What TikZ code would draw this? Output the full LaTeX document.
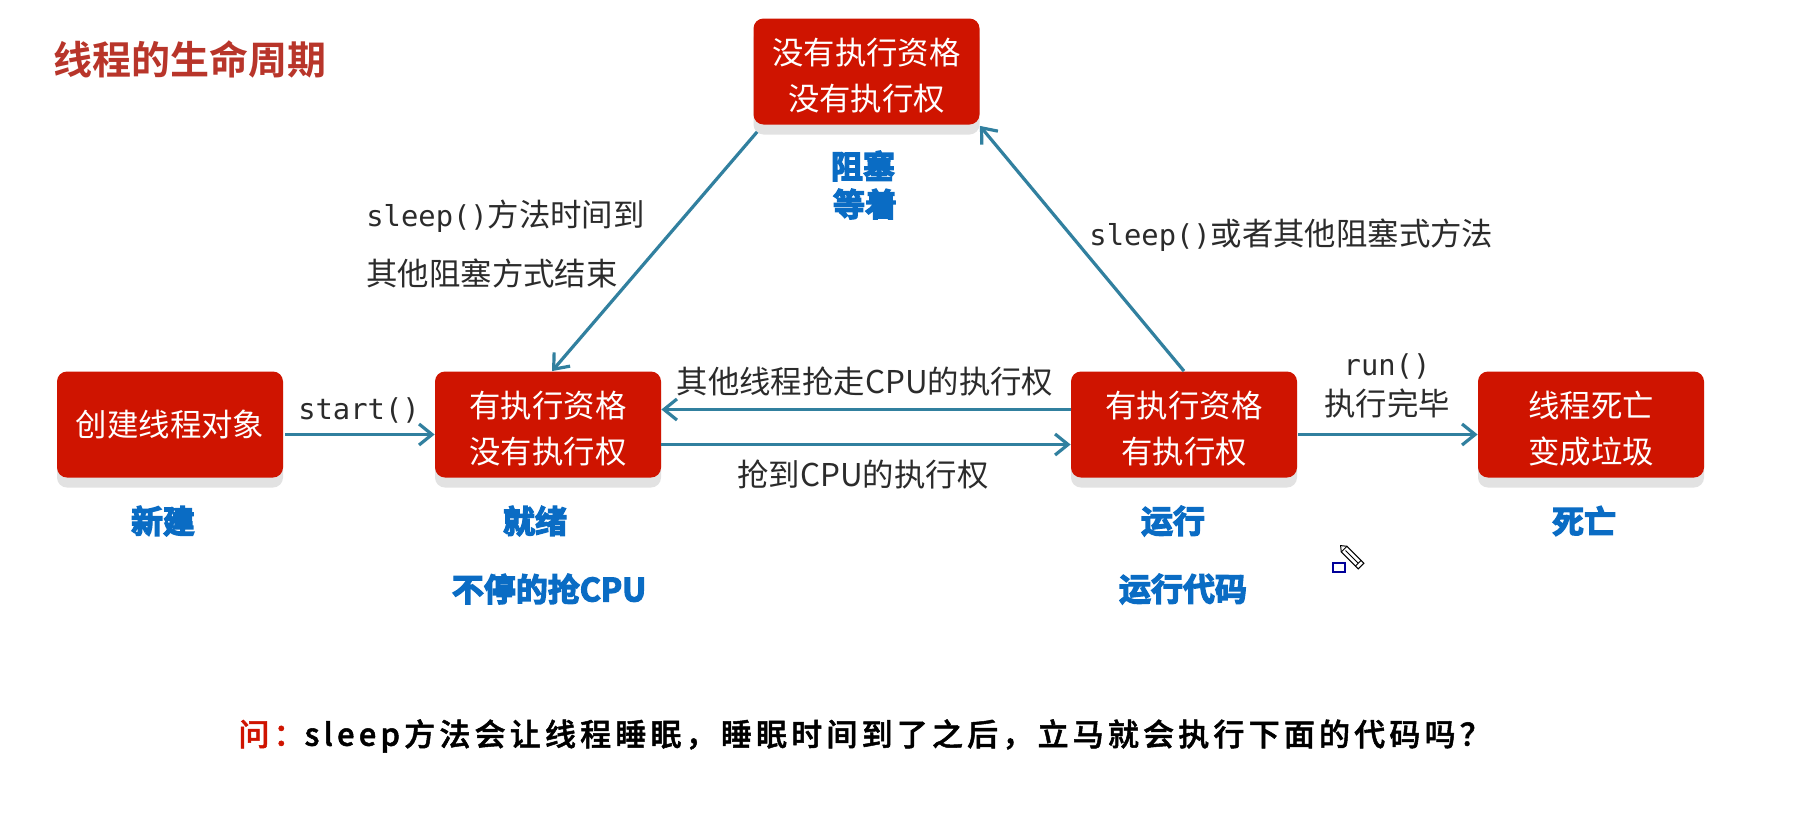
\documentclass[tikz,border=0pt]{standalone}
\usepackage{fontspec}
\setmainfont{Noto Sans CJK SC}
\newfontfamily\cjkbold{Noto Sans CJK SC Bold}
\newfontfamily\cjkfat[FakeBold=4]{Noto Sans CJK SC Bold}
\newfontfamily\handfont[FakeBold=1.6,LetterSpace=13.5]{Noto Sans CJK SC Medium}
\newfontfamily\codefont{DejaVu Sans Mono}
\usetikzlibrary{arrows.meta,shadows}
\definecolor{boxred}{HTML}{CF1400}
\definecolor{titlered}{HTML}{B8352A}
\definecolor{linkblue}{HTML}{31809F}
\definecolor{tagblue}{HTML}{0A6CC4}
\definecolor{inktext}{HTML}{2B2B2B}
\definecolor{boxshadow}{HTML}{E2E2E2}
\tikzset{
  statebox/.style={rectangle,rounded corners=5pt,fill=boxred,text=white,align=center,
    minimum width=113pt,minimum height=53pt,inner sep=0pt,font=\fontsize{15.7}{23}\selectfont,
    general shadow={shadow xshift=0pt,shadow yshift=-5pt,fill=boxshadow}},
  link/.style={draw=linkblue,line width=1.6pt,-{Straight Barb[length=6.5pt,width=10.5pt,line width=1.6pt]}},
  caption/.style={text=inktext,inner sep=0pt,font=\fontsize{15.7}{20}\selectfont},
  tag/.style={text=tagblue,inner sep=0pt,font=\cjkfat\fontsize{16}{20}\selectfont},
}
\newcommand{\code}[1]{{\codefont\fontsize{14.4}{20}\selectfont #1}}
% taller first line, which sets the two lines of a box a little low
\newcommand{\toprow}{\rule{0pt}{17.3pt}}
\begin{document}
\begin{tikzpicture}[x=0.5pt,y=-0.5pt]
\useasboundingbox (0,0) rectangle (1804,814);
\fill[white] (0,0) rectangle (1804,814);

\node[text=titlered,inner sep=0pt,anchor=west,font=\cjkbold\fontsize{19.5}{24}\selectfont] (title) at (53,59) {线程的生命周期};

% lifecycle states
\node[statebox] (blocked) at (866.5,71.5) {\toprow 没有执行资格\\没有执行权};
\node[statebox] (created) at (170,424.5) {创建线程对象};
\node[statebox] (ready) at (548,424.5) {\toprow 有执行资格\\没有执行权};
\node[statebox] (running) at (1184,424.5) {\toprow 有执行资格\\有执行权};
\node[statebox] (dead) at (1591,424.5) {\toprow 线程死亡\\变成垃圾};

% transitions
\draw[link] ([xshift=1pt,yshift=-5pt]created.east) -- ([yshift=-5pt]ready.west);
\draw[link] ([yshift=7.5pt]running.west) -- ([yshift=7.5pt]ready.east);
\draw[link] ([yshift=-10pt]ready.east) -- ([yshift=-10pt]running.west);
\draw[link] ([xshift=0.5pt,yshift=-5pt]running.east) -- ([yshift=-5pt]dead.west);
\draw[link] ([xshift=2pt,yshift=-3.5pt]blocked.south west) -- ([xshift=2pt]ready.north);
\draw[link] (running.north) -- ([yshift=-0.5pt]blocked.south east);

% transition labels
\node[caption] (lstart) at (359,410) {\code{start()}};
\node[caption,anchor=west] (lwake) at (366,216) {\code{sleep()}方法时间到};
\node[caption,anchor=west] (lother) at (366,273) {其他阻塞方式结束};
\node[caption,anchor=west] (lsleep) at (1089,235) {\code{sleep()}或者其他阻塞式方法};
\node[caption] (llose) at (865,382) {其他线程抢走CPU的执行权};
\node[caption] (lgain) at (863,475) {抢到CPU的执行权};
\node[caption] (lrun) at (1387,366) {\code{run()}};
\node[caption] (ldone) at (1387,403) {执行完毕};

% state names
\node[tag] (t1) at (863,166) {阻塞};
\node[tag] (t2) at (865,204) {等着};
\node[tag] (t3) at (163,521) {新建};
\node[tag] (t4) at (535,521) {就绪};
\node[tag] (t5) at (549,589) {不停的抢CPU};
\node[tag] (t6) at (1173,521) {运行};
\node[tag] (t7) at (1183,589) {运行代码};
\node[tag] (t8) at (1584,521) {死亡};

% question
\node[inner sep=0pt,anchor=west,font=\handfont\fontsize{15.5}{20}\selectfont] (question) at (238,736)
  {\textcolor{boxred}{问：}sleep方法会让线程睡眠，睡眠时间到了之后，立马就会执行下面的代码吗？};

% pencil cursor
\begin{scope}[shift={(1354,559)},rotate=45]
  \draw[black,line width=0.5pt,fill=white] (-4,-14) -- (4,-14) -- (4,10) -- (-4,10) -- cycle;
  \draw[black,line width=0.5pt] (-4,-14) -- (0,-19) -- (4,-14);
  \draw[black,line width=0.5pt] (-4,6) -- (4,6) (0,-12) -- (0,6);
\end{scope}
\draw[draw=blue!60!black,line width=0.7pt,fill=white] (1333,563) rectangle (1345,572);
\end{tikzpicture}
\end{document}
